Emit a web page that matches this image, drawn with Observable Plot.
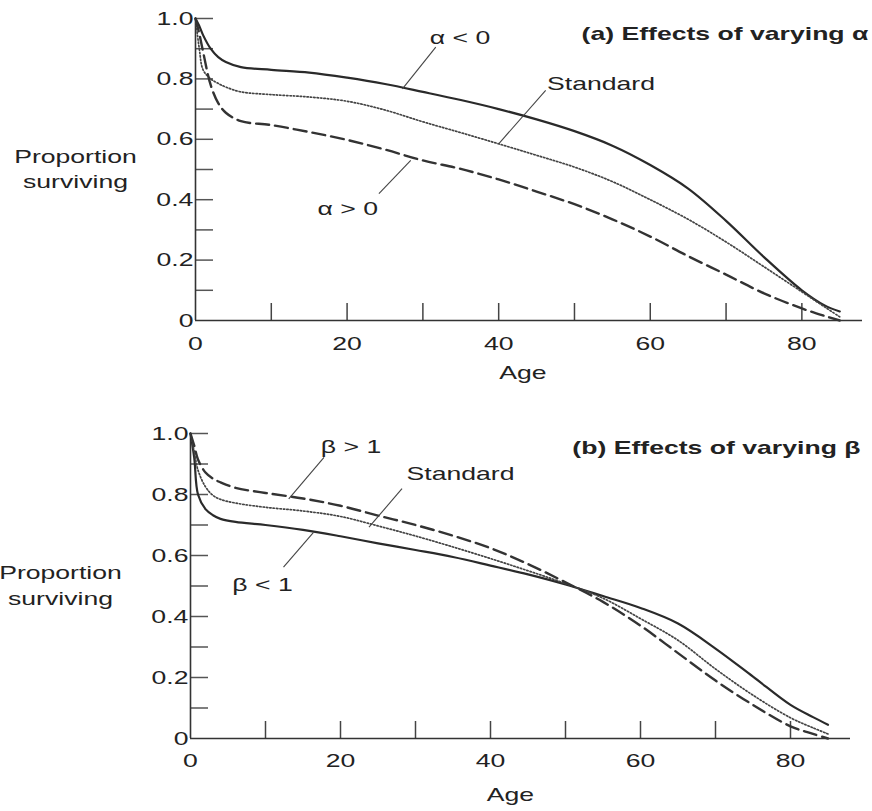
<!DOCTYPE html>
<html>
<head>
<meta charset="utf-8">
<script src="https://cdn.jsdelivr.net/npm/d3@7"></script>
<script src="https://cdn.jsdelivr.net/npm/@observablehq/plot@0.6"></script>
<style>
  html, body { margin: 0; padding: 0; background: #fff; }
  #chart { width: 872px; height: 811px; overflow: hidden; background: #fff; }
  #chart svg { display: block; }
</style>
</head>
<body>
<div id="chart"></div>
<script>
// ---------------- data ----------------
const ages = [0, 0.5, 1, 2, 3, 4, 6, 10, 15, 20, 25, 30, 35, 40, 45, 50, 55, 60, 65, 70, 75, 80, 83, 85];

// (a) Effects of varying alpha
const alphaNeg = [1.0, 0.975, 0.945, 0.9, 0.872, 0.856, 0.839, 0.83, 0.821, 0.804, 0.783, 0.757, 0.73, 0.70, 0.666, 0.627, 0.579, 0.515, 0.437, 0.33, 0.21, 0.1, 0.05, 0.03];
const alphaStd = [1.0, 0.9, 0.83, 0.8, 0.785, 0.773, 0.757, 0.748, 0.74, 0.726, 0.697, 0.658, 0.622, 0.585, 0.547, 0.508, 0.46, 0.40, 0.335, 0.26, 0.178, 0.095, 0.045, 0.012];
const alphaPos = [1.0, 0.95, 0.89, 0.78, 0.72, 0.688, 0.66, 0.647, 0.624, 0.598, 0.566, 0.53, 0.502, 0.467, 0.427, 0.385, 0.335, 0.278, 0.213, 0.152, 0.09, 0.04, 0.015, 0.0];

// (b) Effects of varying beta
const betaGt1 = [1.0, 0.96, 0.915, 0.872, 0.852, 0.84, 0.822, 0.805, 0.787, 0.763, 0.731, 0.70, 0.665, 0.624, 0.572, 0.512, 0.448, 0.37, 0.28, 0.19, 0.11, 0.04, 0.015, 0.0];
const betaStd = [1.0, 0.94, 0.88, 0.825, 0.797, 0.784, 0.772, 0.758, 0.746, 0.728, 0.697, 0.664, 0.628, 0.59, 0.55, 0.508, 0.46, 0.393, 0.322, 0.228, 0.142, 0.068, 0.035, 0.015];
const betaLt1 = [1.0, 0.92, 0.80, 0.752, 0.732, 0.72, 0.71, 0.70, 0.684, 0.663, 0.64, 0.618, 0.595, 0.567, 0.538, 0.505, 0.467, 0.428, 0.377, 0.295, 0.203, 0.11, 0.07, 0.045];

// ticks
const yTickValues = [0.1, 0.2, 0.3, 0.4, 0.5, 0.6, 0.7, 0.8, 0.9, 1.0];
const yLabelValues = [0, 0.2, 0.4, 0.6, 0.8, 1.0];
const yLabels = ["0", "0.2", "0.4", "0.6", "0.8", "1.0"];
const xTickValues = [10, 20, 30, 40, 50, 60, 70, 80];
const xLabelValues = [0, 20, 40, 60, 80];
const xLabels = ["0", "20", "40", "60", "80"];

// texts
const titleA = "(a) Effects of varying α";
const titleB = "(b) Effects of varying β";
const yAxisTitle = "Proportion\nsurviving";
const xAxisTitle = "Age";

// annotations (age, proportion) with leader lines
const annotALabels = ["α < 0", "Standard", "α > 0"];
const annotAX = [34.9, 53.5, 20.1];
const annotAY = [0.937, 0.785, 0.368];
const leaderAX1 = [31.7, 46.2, 24.2];
const leaderAY1 = [0.905, 0.762, 0.42];
const leaderAX2 = [27.3, 40.0, 28.4];
const leaderAY2 = [0.767, 0.585, 0.53];

const annotBLabels = ["β > 1", "Standard", "β < 1"];
const annotBX = [21.4, 36.0, 9.6];
const annotBY = [0.957, 0.869, 0.505];
const leaderBX1 = [17.8, 28.2, 12.4];
const leaderBY1 = [0.922, 0.819, 0.562];
const leaderBX2 = [13.1, 23.8, 16.4];
const leaderBY2 = [0.786, 0.693, 0.676];

// ---------------- drawing ----------------
const FONT = "'Liberation Sans', Arial, Helvetica, sans-serif";
const INK = "#222";
const SOLID = {stroke: "#2a2a2a", strokeWidth: 2.2};
const DOTTED = {stroke: "#444", strokeWidth: 1.7, strokeDasharray: "1.4,2"};
const DASHED = {stroke: "#333", strokeWidth: 2.4, strokeDasharray: "13,6"};
const CURVE = "catmull-rom";

function rows(vals) { return ages.map((a, i) => ({age: a, p: vals[i]})); }

function makePanel(cfg) {
  const annot = cfg.labels.map((t, i) => ({
    t, x: cfg.ax[i], y: cfg.ay[i], x1: cfg.lx1[i], y1: cfg.ly1[i], x2: cfg.lx2[i], y2: cfg.ly2[i]
  }));
  return Plot.plot({
    width: 872,
    height: cfg.height,
    marginTop: cfg.marginTop,
    marginBottom: cfg.marginBottom,
    marginLeft: cfg.marginLeft,
    marginRight: cfg.marginRight,
    style: {fontFamily: FONT, fontSize: "19px", color: INK, background: "#fff", overflow: "visible"},
    x: {domain: [0, 88], label: null},
    y: {domain: [0, 1], label: null},
    marks: [
      Plot.axisY({ticks: yTickValues, tickSize: -18, fill: "none", stroke: "#555", strokeWidth: 1.5, label: null}),
      Plot.axisX({ticks: xTickValues, tickSize: -17, fill: "none", stroke: "#444", strokeWidth: 1.5, label: null}),
      Plot.axisY({ticks: yLabelValues, tickSize: 0, tickPadding: 2, fontSize: 19, fill: INK, label: null,
        tickFormat: d => yLabels[yLabelValues.indexOf(d)]}),
      Plot.axisX({ticks: xLabelValues, tickSize: 0, tickPadding: cfg.xPad, fontSize: 19, fill: INK, label: null,
        tickFormat: d => xLabels[xLabelValues.indexOf(d)]}),
      Plot.ruleX([0], {y1: 0, y2: 1, stroke: "#333", strokeWidth: 1.6}),
      Plot.ruleY([0], {x1: 0, x2: 88, stroke: "#333", strokeWidth: 1.6}),
      Plot.line(rows(cfg.solid), {x: "age", y: "p", curve: CURVE, ...SOLID}),
      Plot.line(rows(cfg.dotted), {x: "age", y: "p", curve: CURVE, ...DOTTED}),
      Plot.line(rows(cfg.dashed), {x: "age", y: "p", curve: CURVE, ...DASHED}),
      Plot.link(annot, {x1: "x1", y1: "y1", x2: "x2", y2: "y2", stroke: "#444", strokeWidth: 1.1}),
      Plot.text(annot, {x: "x", y: "y", text: "t", fontSize: 19, fill: INK, lineAnchor: "middle"}),
      Plot.text([cfg.title], {text: d => d, frameAnchor: "top-right", dx: cfg.titleDx, dy: cfg.titleDy,
        textAnchor: "end", lineAnchor: "middle", fontWeight: "bold", fontSize: 19, fill: INK}),
      Plot.text([yAxisTitle], {text: d => d, frameAnchor: "left", dx: cfg.ylabDx, dy: cfg.ylabDy,
        textAnchor: "middle", lineAnchor: "middle", lineHeight: cfg.ylabLH, fontSize: 19, fill: INK}),
      Plot.text([xAxisTitle], {text: d => d, frameAnchor: "bottom", dx: cfg.ageDx, dy: cfg.ageDy,
        textAnchor: "middle", lineAnchor: "middle", fontSize: 19, fill: INK})
    ]
  });
}

function stretchText(svg, k) {
  for (const t of svg.querySelectorAll("text")) {
    const b = t.getBBox();
    const anchor = getComputedStyle(t).textAnchor;
    const ax = anchor === "end" ? b.x + b.width : anchor === "middle" ? b.x + b.width / 2 : b.x;
    const tr = t.getAttribute("transform") || "";
    t.setAttribute("transform", `${tr} translate(${ax},0) scale(${k},1) translate(${-ax},0)`);
  }
}

const panelA = makePanel({
  height: 400, marginTop: 18, marginBottom: 80, marginLeft: 195, marginRight: 10,
  solid: alphaNeg, dotted: alphaStd, dashed: alphaPos,
  labels: annotALabels, ax: annotAX, ay: annotAY, lx1: leaderAX1, ly1: leaderAY1, lx2: leaderAX2, ly2: leaderAY2,
  title: titleA, titleDx: 6, titleDy: 15,
  ylabDx: -120, ylabDy: -2, ylabLH: 1.3,
  ageDx: -6, ageDy: 52, xPad: 16
});
const panelB = makePanel({
  height: 411, marginTop: 33, marginBottom: 73, marginLeft: 190, marginRight: 22,
  solid: betaLt1, dotted: betaStd, dashed: betaGt1,
  labels: annotBLabels, ax: annotBX, ay: annotBY, lx1: leaderBX1, ly1: leaderBY1, lx2: leaderBX2, ly2: leaderBY2,
  title: titleB, titleDx: 10, titleDy: 14,
  ylabDx: -130, ylabDy: -2, ylabLH: 1.35,
  ageDx: -10, ageDy: 56, xPad: 15
});

const chart = document.getElementById("chart");
chart.appendChild(panelA);
chart.appendChild(panelB);
stretchText(panelA, 1.4);
stretchText(panelB, 1.4);
</script>
</body>
</html>
